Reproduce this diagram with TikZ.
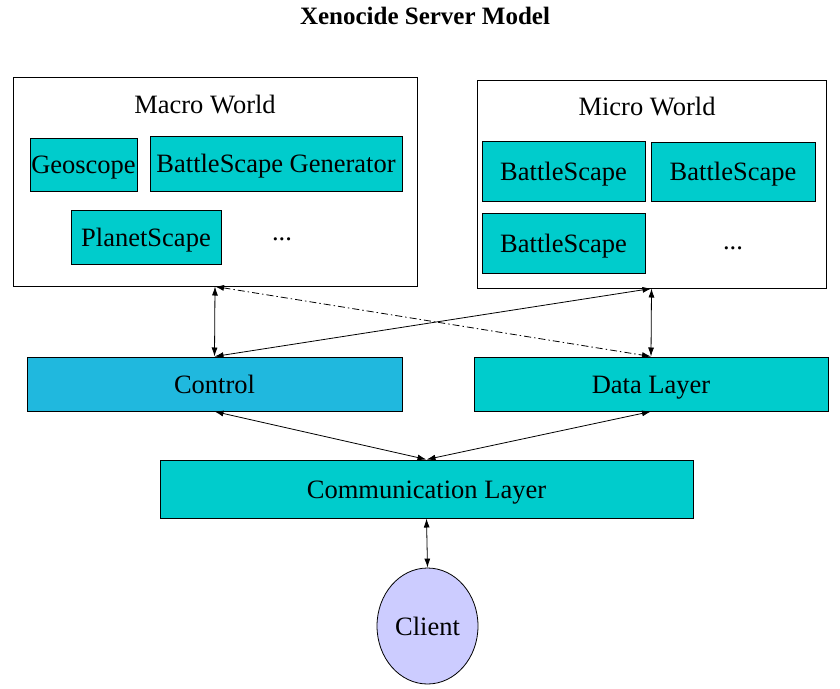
\documentclass[tikz,border=0pt]{standalone}
\usepackage{fontspec}
\setmainfont{Liberation Serif}
\usetikzlibrary{arrows.meta,positioning,calc,shapes.geometric}
\definecolor{boxcyan}{RGB}{0,204,204}
\definecolor{ctrlblue}{RGB}{32,184,222}
\definecolor{clientlav}{RGB}{204,204,255}

\begin{document}
\begin{tikzpicture}[
  x=1pt,y=-1pt,
  font=\fontsize{26.5}{30}\selectfont,
  world/.style={rectangle,draw,line width=1pt,inner sep=0pt},
  part/.style={rectangle,draw,line width=1pt,fill=boxcyan,inner sep=0pt,text height=18pt,text depth=0pt},
  layer/.style={part,minimum height=54pt},
  link/.style={line width=0.8pt,{Latex[length=9pt,width=6pt]}-{Latex[length=9pt,width=6pt]}},
  >=Latex
]
\useasboundingbox (0,0) rectangle (840,688);
\node[font=\fontsize{25}{28}\selectfont\bfseries] (title) at (425,16) {Xenocide Server Model};
% worlds
\node[world,minimum width=404pt,minimum height=209pt] (macro) at (215,181.5) {};
\node[world,minimum width=349pt,minimum height=208pt] (micro) at (651.5,184) {};
\node (macrolbl) at (205,105) {Macro World};
\node (microlbl) at (647,107) {Micro World};
\node[part,minimum width=107pt,minimum height=53pt] (geo) at (83.5,164.5) {Geoscope};
\node[part,minimum width=252pt,minimum height=55pt] (gen) at (276,163.5) {BattleScape Generator};
\node[part,minimum width=150pt,minimum height=54pt] (planet) at (146,237) {PlanetScape};
\node (macrodots) at (282,239) {...};
\node[part,minimum width=163pt,minimum height=60pt] (bs1) at (563.5,171) {BattleScape};
\node[part,minimum width=164pt,minimum height=59pt] (bs2) at (733,171.5) {BattleScape};
\node[part,minimum width=163pt,minimum height=60pt] (bs3) at (563.5,243) {BattleScape};
\node (microdots) at (733,248) {...};
% layers
\node[layer,fill=ctrlblue,minimum width=375pt] (ctrl) at (214.5,384) {Control};
\node[layer,minimum width=354pt] (data) at (651,384) {Data Layer};
\node[layer,minimum width=533pt,minimum height=58pt] (comm) at (426.5,489) {Communication Layer};
\node[ellipse,draw,line width=0.8pt,fill=clientlav,inner sep=0pt,minimum width=101pt,minimum height=116pt] (client) at (427.5,626) {Client};
% links
\draw[link] (macro.south) -- (ctrl.north);
\draw[link] (micro.south) -- (data.north);
\draw[link] (ctrl.north) -- (micro.south);
\draw[link,dash pattern=on 7pt off 3pt on 1.5pt off 3pt] (macro.south) -- (data.north);
\draw[link] (ctrl.south) -- (comm.north);
\draw[link] (data.south) -- (comm.north);
\draw[link] (comm.south) -- (client.north);
\end{tikzpicture}
\end{document}
